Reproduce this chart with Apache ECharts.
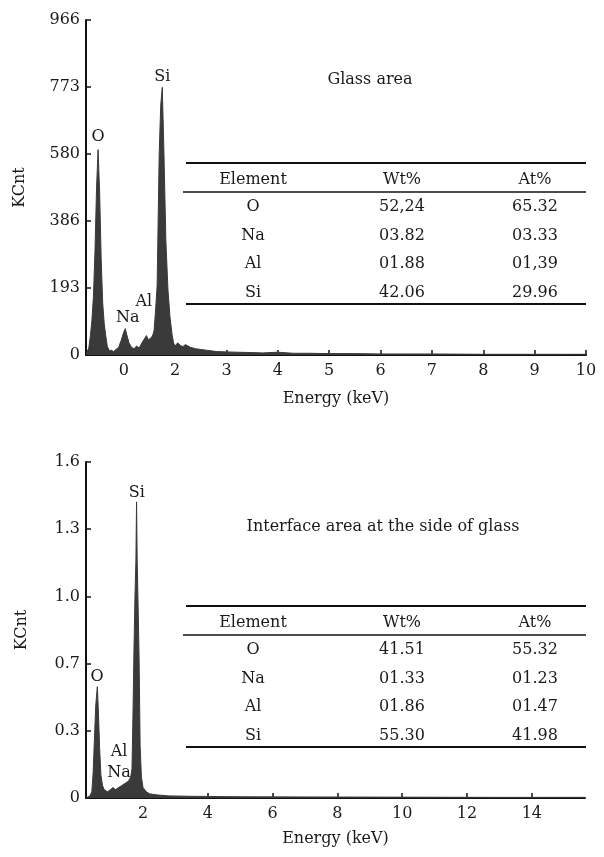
<!DOCTYPE html>
<html>
<head>
<meta charset="utf-8">
<title>EDS spectra</title>
<script src="https://cdn.jsdelivr.net/npm/echarts@6/dist/echarts.min.js"></script>
<style>
  html, body { margin: 0; padding: 0; background: #fff; }
  #chart { width: 604px; height: 857px; }
</style>
</head>
<body>
<div id="chart"></div>
<script>
// ---- glass area spectrum (keV, counts) ----
var spectrumGlass = [
  [0.27, 5], [0.32, 20], [0.35, 55], [0.38, 100], [0.41, 170], [0.44, 300], [0.47, 480],
  [0.50, 592], [0.53, 470], [0.56, 280], [0.59, 150], [0.62, 90], [0.65, 55], [0.68, 25],
  [0.72, 12], [0.76, 14], [0.80, 10], [0.85, 16], [0.90, 22], [0.95, 42], [1.00, 66],
  [1.03, 76], [1.06, 58], [1.10, 36], [1.15, 22], [1.20, 18], [1.25, 26], [1.30, 20],
  [1.35, 34], [1.40, 46], [1.44, 56], [1.48, 44], [1.52, 48], [1.56, 55], [1.59, 70],
  [1.62, 130], [1.65, 200], [1.69, 580], [1.72, 720], [1.75, 772], [1.78, 600], [1.82, 330],
  [1.86, 190], [1.90, 110], [1.94, 60], [1.97, 35], [2.00, 26], [2.05, 35], [2.10, 28],
  [2.15, 24], [2.20, 30], [2.30, 22], [2.40, 18], [2.50, 16], [2.60, 14], [2.70, 12],
  [2.80, 10], [3.00, 9], [3.20, 8], [3.50, 7], [3.70, 6], [4.00, 8], [4.30, 5], [4.60, 5],
  [5.00, 4], [5.50, 4], [6.00, 3], [6.50, 3], [7.00, 3], [8.00, 2], [9.00, 2], [10.00, 2]
];

// ---- interface spectrum (keV, KCnt) ----
var spectrumInterface = [
  [0.24, 0.0], [0.36, 0.01], [0.42, 0.03], [0.46, 0.12], [0.50, 0.28], [0.54, 0.44],
  [0.59, 0.53], [0.62, 0.42], [0.66, 0.24], [0.70, 0.11], [0.75, 0.06], [0.80, 0.04],
  [0.90, 0.03], [1.00, 0.04], [1.07, 0.05], [1.15, 0.04], [1.25, 0.05], [1.35, 0.06],
  [1.45, 0.07], [1.55, 0.08], [1.62, 0.10], [1.66, 0.14], [1.69, 0.40], [1.72, 0.70],
  [1.75, 0.95], [1.78, 1.13], [1.80, 1.41], [1.82, 1.13], [1.85, 0.90], [1.88, 0.65],
  [1.91, 0.25], [1.95, 0.10], [2.00, 0.05], [2.05, 0.04], [2.10, 0.03], [2.20, 0.02],
  [2.40, 0.015], [2.80, 0.01], [3.50, 0.008], [5.00, 0.006], [7.00, 0.005],
  [10.00, 0.004], [13.00, 0.003], [15.64, 0.003]
];

// peak labels [keV, value, name]
var peaksGlass = [[0.50, 629, 'O'], [1.75, 802, 'Si'], [1.08, 107, 'Na'], [1.39, 153, 'Al']];
var peaksInterface = [[0.58, 0.576, 'O'], [1.81, 1.452, 'Si'], [1.26, 0.219, 'Al'], [1.26, 0.119, 'Na']];

// axis ticks / labels
var xTicksGlass = [1, 2, 3, 4, 5, 6, 7, 8, 9, 10];
var xLabelsGlass = ['0', '2', '3', '4', '5', '6', '7', '8', '9', '10'];
var xTicksInterface = [2, 4, 6, 8, 10, 12, 14];
var yLabelsInterface = ['0', '0.3', '0.7', '1.0', '1.3', '1.6'];

// composition tables
var tableHeader = ['Element', 'Wt%', 'At%'];
var elements = ['O', 'Na', 'Al', 'Si'];
var wtGlass = ['52,24', '03.82', '01.88', '42.06'];
var atGlass = ['65.32', '03.33', '01,39', '29.96'];
var wtInterface = ['41.51', '01.33', '01.86', '55.30'];
var atInterface = ['55.32', '01.23', '01.47', '41.98'];

var FONT = 'DejaVu Serif';
var TXT = '#1a1a1a';

var chart = echarts.init(document.getElementById('chart'));

function xAxisCfg(gridIndex, min, max, ticks, fmt, nameGap) {
  return {
    type: 'value', gridIndex: gridIndex, min: min, max: max,
    name: 'Energy (keV)', nameLocation: 'middle', nameGap: nameGap,
    nameTextStyle: { fontFamily: FONT, fontSize: 16, color: TXT },
    axisLine: { lineStyle: { color: '#111', width: 2 } },
    axisTick: { show: true, inside: true, length: 5, customValues: ticks, lineStyle: { color: '#111', width: 1.5 } },
    axisLabel: { customValues: ticks, formatter: fmt, margin: 8, fontFamily: FONT, fontSize: 16, color: TXT },
    splitLine: { show: false }
  };
}

function yAxisCfg(gridIndex, max, interval, fmt, nameGap) {
  return {
    type: 'value', gridIndex: gridIndex, min: 0, max: max, interval: interval,
    name: 'KCnt', nameLocation: 'middle', nameGap: nameGap, nameRotate: 90,
    nameTextStyle: { fontFamily: FONT, fontSize: 16, color: TXT },
    axisLine: { show: true, lineStyle: { color: '#111', width: 2 } },
    axisTick: { show: true, inside: true, length: 5, lineStyle: { color: '#111', width: 1.5 } },
    axisLabel: { formatter: fmt, margin: 6, fontFamily: FONT, fontSize: 16, color: TXT },
    splitLine: { show: false }
  };
}

function peakSeries(idx, data) {
  return {
    type: 'scatter', xAxisIndex: idx, yAxisIndex: idx, z: 5,
    symbolSize: 0, silent: true,
    itemStyle: { opacity: 1 },
    data: data,
    label: {
      show: true, position: 'inside',
      formatter: function (p) { return p.data[2]; },
      fontFamily: FONT, fontSize: 16, color: TXT,
      textBorderWidth: 0
    }
  };
}

function spectrumSeries(idx, data) {
  return {
    type: 'line', xAxisIndex: idx, yAxisIndex: idx,
    data: data, showSymbol: false, smooth: false,
    lineStyle: { color: '#3a3a3a', width: 1 },
    areaStyle: { color: '#3a3a3a', opacity: 1 }
  };
}

function tableGraphics(top, wt, at, titleText, titleX, titleY) {
  var cols = [253, 402, 535];
  var x1 = 186, x2 = 586;
  var g = [];
  g.push({ type: 'text', style: { text: titleText, x: titleX, y: titleY, align: 'center', verticalAlign: 'middle', font: '16px "' + FONT + '"', fill: TXT } });
  g.push({ type: 'line', shape: { x1: x1, y1: top, x2: x2, y2: top }, style: { stroke: '#111', lineWidth: 2 } });
  tableHeader.forEach(function (h, i) {
    g.push({ type: 'text', style: { text: h, x: cols[i], y: top + 17, align: 'center', verticalAlign: 'middle', font: '16px "' + FONT + '"', fill: TXT } });
  });
  g.push({ type: 'line', shape: { x1: x1 - 3, y1: top + 29, x2: x2, y2: top + 29 }, style: { stroke: '#111', lineWidth: 1.5 } });
  elements.forEach(function (el, r) {
    var y = top + 44 + r * 28.5;
    [el, wt[r], at[r]].forEach(function (t, i) {
      g.push({ type: 'text', style: { text: t, x: cols[i], y: y, align: 'center', verticalAlign: 'middle', font: '16px "' + FONT + '"', fill: TXT } });
    });
  });
  g.push({ type: 'line', shape: { x1: x1, y1: top + 141, x2: x2, y2: top + 141 }, style: { stroke: '#111', lineWidth: 2 } });
  return g;
}

chart.setOption({
  backgroundColor: '#fff',
  animation: false,
  grid: [
    { left: 86, top: 20, width: 500, height: 335 },
    { left: 86, top: 462, width: 499, height: 336 }
  ],
  xAxis: [
    xAxisCfg(0, 0.265, 10, xTicksGlass, function (v) { return xLabelsGlass[xTicksGlass.indexOf(Math.round(v))]; }, 36),
    xAxisCfg(1, 0.24, 15.64, xTicksInterface, function (v) { return String(Math.round(v)); }, 33)
  ],
  yAxis: [
    yAxisCfg(0, 966, 193.2, function (v) { return String(Math.round(v)); }, 58),
    yAxisCfg(1, 1.6, 0.32, function (v) { return yLabelsInterface[Math.round(v / 0.32)]; }, 56)
  ],
  series: [
    spectrumSeries(0, spectrumGlass),
    spectrumSeries(1, spectrumInterface),
    peakSeries(0, peaksGlass),
    peakSeries(1, peaksInterface)
  ],
  graphic: tableGraphics(163, wtGlass, atGlass, 'Glass area', 370, 80)
    .concat(tableGraphics(606, wtInterface, atInterface, 'Interface area at the side of glass', 383, 527))
});
</script>
</body>
</html>
